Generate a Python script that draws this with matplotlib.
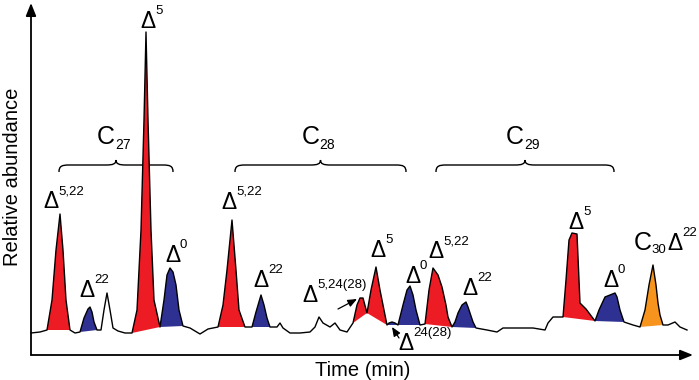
import matplotlib
matplotlib.use("Agg")
import matplotlib.pyplot as plt
from matplotlib.path import Path
from matplotlib.patches import PathPatch

plt.rcParams['font.family'] = ['Liberation Sans', 'DejaVu Sans']

# chromatogram trace: (time, abundance), arbitrary units
trace = [(0, 22), (9, 23), (16, 25), (21, 55), (25, 105), (29, 141), (32, 105), (35, 55),
         (39, 25), (44, 22), (49, 23), (53, 37), (57, 46), (59, 48), (61, 43), (63, 33),
         (66, 25), (70, 25), (73, 45), (76, 62), (79, 45), (82, 27), (87, 24), (94, 22),
         (101, 22), (106, 45), (110, 125), (113, 235), (115, 323), (117, 235), (120, 125),
         (123, 55), (129, 28), (133, 55), (136, 80), (139, 87), (142, 83), (145, 70),
         (148, 45), (152, 29), (159, 27), (169, 21), (177, 26), (187, 28), (192, 50),
         (196, 85), (201, 135), (205, 85), (208, 45), (214, 28), (221, 28), (225, 43),
         (230, 60), (233, 50), (236, 37), (239, 28), (246, 28), (249, 32), (252, 27),
         (259, 22), (269, 22), (279, 23), (284, 28), (288, 38), (292, 32), (299, 28),
         (304, 32), (309, 25), (316, 23), (322, 32), (326, 50), (329, 57), (332, 57),
         (336, 42), (340, 65), (345, 88), (349, 65), (353, 45), (356, 30), (358, 32),
         (361, 33), (364, 32), (367, 30), (372, 50), (376, 65), (379, 69), (382, 60),
         (385, 45), (389, 30), (394, 31), (398, 65), (402, 87), (407, 80), (411, 68),
         (415, 50), (417, 38), (421, 28), (424, 33), (427, 42), (431, 50), (435, 53),
         (437, 48), (439, 42), (442, 33), (445, 27), (456, 25), (466, 23), (472, 27),
         (489, 27), (502, 27), (514, 25), (517, 32), (522, 38), (532, 38), (535, 75),
         (538, 115), (541, 122), (546, 121), (549, 52), (555, 46), (564, 34),
         (568, 45), (574, 58), (579, 60), (584, 62), (586, 58), (589, 45), (593, 33),
         (602, 30), (609, 28), (614, 45), (618, 70), (622, 90), (625, 70), (627, 52),
         (629, 40), (632, 30), (637, 30), (644, 33), (649, 28), (656, 25)]
time = [p[0] for p in trace]
abundance = [p[1] for p in trace]

# shaded peaks: start time, end time, colour
peak_start = [16, 49, 101, 129, 187, 221, 322, 336, 356, 367, 394, 421, 532, 564, 609]
peak_end = [39, 66, 129, 152, 214, 239, 336, 356, 367, 389, 421, 445, 564, 593, 632]
RED, BLUE, ORANGE = '#ed1c24', '#2e3192', '#f7941d'
peak_color = [RED, BLUE, RED, BLUE, RED, BLUE, RED, RED, BLUE, BLUE, RED, BLUE, RED, BLUE,
              ORANGE]

# peak labels: time, abundance, superscript
label_t = [12, 48, 109, 134, 190, 222, 271, 339, 367, 374, 397, 431, 537, 572]
label_a = [147, 58, 327, 93, 146, 68, 53, 98, 5, 72, 97, 60, 126, 68]
label_sup = ['5,22', '22', '5', '0', '5,22', '22', '5,24(28)', '5', '24(28)', '0', '5,22', '22',
             '5', '0']

# carbon-number groups
group_start = [28, 204, 405]
group_end = [142, 375, 583]
group_name = ['27', '28', '29']

fig = plt.figure(figsize=(6.99, 3.80), dpi=100)
ax = fig.add_axes([0, 0, 1, 1])
ax.set_xlim(-31, 668)
ax.set_ylim(-25, 355)
ax.axis('off')

# filled peaks, closed by a straight chord between their ends
for t0, t1, c in zip(peak_start, peak_end, peak_color):
    pts = [(t, a) for t, a in trace if t0 <= t <= t1]
    ax.fill([p[0] for p in pts], [p[1] for p in pts], color=c, lw=0, zorder=2)

ax.plot(time, abundance, color='black', lw=1.0, zorder=3)

# axes with arrow heads
arrow = dict(arrowstyle='-|>,head_length=0.7,head_width=0.28', color='black', lw=1.3,
             shrinkA=0, shrinkB=0, mutation_scale=11)
ax.annotate('', xy=(0, 352), xytext=(0, 0), arrowprops=arrow)
ax.annotate('', xy=(662, 0), xytext=(0, 0), arrowprops=arrow)
ax.text(-19, 178, 'Relative abundance', rotation=90, ha='center', va='center', fontsize=14.5)
ax.text(332, -16, 'Time (min)', ha='center', va='center', fontsize=14.5)


def delta(t, a, sup):
    ax.text(t, a, '\u0394', fontsize=16.5, ha='left', va='baseline', zorder=4)
    ax.text(t + 15, a + 14, sup, fontsize=9.5, ha='left', va='baseline', zorder=4)


for t, a, s in zip(label_t, label_a, label_sup):
    delta(t, a, s)

# C30 delta22 label
ax.text(603, 105, 'C', fontsize=18, ha='left', va='baseline')
ax.text(620, 102, '30', fontsize=9.5, ha='left', va='baseline')
delta(636, 105, '22')

# small arrows pointing at the minor peaks
small = dict(arrowstyle='-|>,head_length=0.6,head_width=0.25', color='black', lw=0.9,
             shrinkA=0, shrinkB=0, mutation_scale=9)
ax.annotate('', xy=(326, 56), xytext=(307, 46), arrowprops=small)
ax.annotate('', xy=(361, 28), xytext=(368, 17), arrowprops=small)


def brace(t0, t1, a):
    tm = (t0 + t1) / 2
    verts = [(t0, a - 7), (t0, a - 1), (t0 + 3, a), (t0 + 10, a),
             (tm - 10, a), (tm - 3, a), (tm, a + 1), (tm, a + 5),
             (tm, a + 1), (tm + 3, a), (tm + 10, a),
             (t1 - 10, a), (t1 - 3, a), (t1, a - 1), (t1, a - 7)]
    codes = [Path.MOVETO, Path.CURVE4, Path.CURVE4, Path.CURVE4,
             Path.LINETO, Path.CURVE4, Path.CURVE4, Path.CURVE4,
             Path.CURVE4, Path.CURVE4, Path.CURVE4,
             Path.LINETO, Path.CURVE4, Path.CURVE4, Path.CURVE4]
    ax.add_patch(PathPatch(Path(verts, codes), fc='none', ec='black', lw=1.0))


for t0, t1, n in zip(group_start, group_end, group_name):
    brace(t0, t1, 190)
    tm = (t0 + t1) / 2
    ax.text(tm - 19, 211, 'C', fontsize=18, ha='left', va='baseline')
    ax.text(tm - 1, 206, n, fontsize=10, ha='left', va='baseline')

fig.savefig('out.png', dpi=100)
